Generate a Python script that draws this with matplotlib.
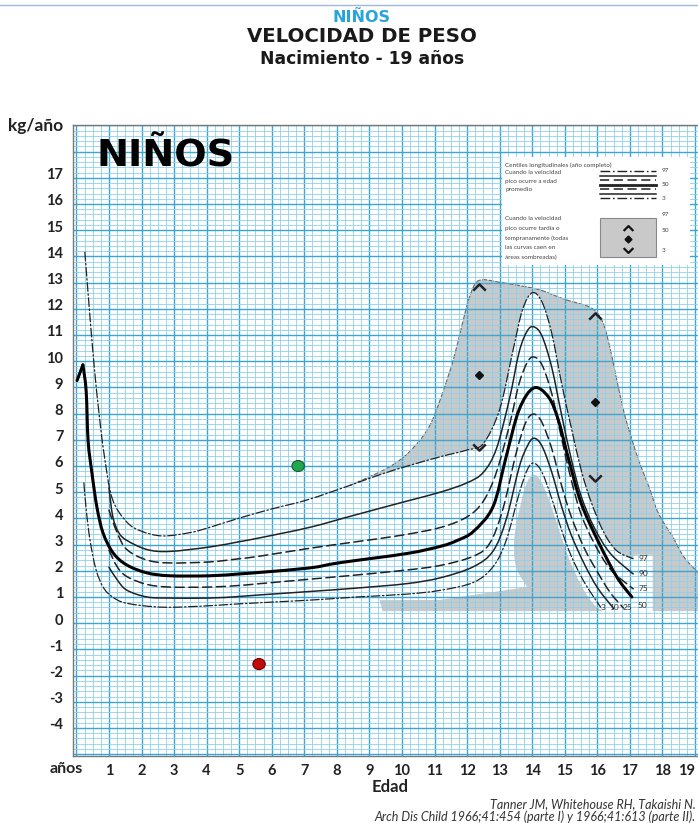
import matplotlib
matplotlib.use("Agg")
import matplotlib.pyplot as plt
import numpy as np
from matplotlib.patches import PathPatch, Rectangle, Ellipse
from matplotlib.path import Path

plt.rcParams["font.family"] = ["Lato", "DejaVu Sans"]

# ---------------- data ----------------
# age (years) / weight velocity (kg/year) per centile, average-timing peak
c97_x = [0.26, 0.4, 0.55, 0.7, 0.85, 1.1, 1.55, 2.0, 2.65, 3.5, 4.1, 5.0, 6.0, 7.1, 8.4, 9.3, 10.2, 11.2, 12.0, 12.5,
         13.0, 13.4, 13.7, 14.0, 14.3, 14.6, 14.9, 15.2, 15.5, 15.8, 16.2, 16.6, 17.1]
c97_y = [14.0, 11.8, 9.6, 7.8, 6.3, 4.6, 3.7, 3.35, 3.17, 3.3, 3.5, 3.85, 4.2, 4.55, 5.1, 5.5, 5.85, 6.2, 6.45, 6.7,
         8.0, 10.2, 11.8, 12.45, 12.1, 10.9, 9.0, 7.3, 5.7, 4.5, 3.3, 2.6, 2.3]

c90_x = [1.0, 1.12, 1.3, 1.55, 2.17, 2.87, 4.1, 5.0, 5.64, 7.17, 8.5, 10.15, 11.2, 12.0, 12.5, 12.9, 13.3, 13.6,
         13.85, 14.05, 14.3, 14.6, 14.9, 15.2, 15.5, 15.9, 16.4, 17.1]
c90_y = [5.0, 3.9, 3.3, 3.0, 2.65, 2.58, 2.75, 2.95, 3.1, 3.5, 3.95, 4.5, 4.85, 5.2, 5.6, 6.5, 8.4, 10.2,
         11.0, 11.15, 10.8, 9.6, 7.8, 6.1, 4.7, 3.5, 2.5, 1.72]

c75_x = [1.0, 1.25, 1.55, 2.17, 2.87, 4.1, 5.0, 5.64, 7.17, 8.6, 10.0, 11.2, 12.0, 12.5, 12.9, 13.3, 13.6, 13.85,
         14.05, 14.3, 14.6, 14.9, 15.2, 15.5, 15.9, 16.4, 17.1]
c75_y = [4.15, 3.3, 2.65, 2.25, 2.14, 2.18, 2.3, 2.4, 2.7, 2.95, 3.2, 3.5, 3.9, 4.5, 5.6, 7.4, 9.0, 9.8,
         10.0, 9.7, 8.6, 6.9, 5.3, 4.0, 2.9, 1.9, 1.15]

c50_x = [0.02, 0.2, 0.3, 0.36, 0.48, 0.63, 0.82, 1.13, 1.55, 2.17, 2.87, 4.1, 5.0, 5.64, 7.17, 8.1, 10.15, 11.2,
         11.7, 12.2, 12.8, 13.2, 13.6, 14.05, 14.5, 14.8, 15.1, 15.5, 16.05, 16.6, 17.06]
c50_y = [9.1, 9.7, 8.7, 6.8, 5.55, 4.27, 3.28, 2.52, 2.06, 1.76, 1.65, 1.65, 1.72, 1.78, 1.95, 2.15, 2.5, 2.78,
         3.0, 3.35, 4.3, 6.2, 8.0, 8.82, 8.47, 7.6, 6.18, 4.43, 2.9, 1.6, 0.84]

c25_x = [1.0, 1.25, 1.55, 2.17, 2.87, 4.1, 5.0, 5.64, 7.17, 8.6, 10.15, 11.2, 12.2, 12.7, 13.1, 13.5, 13.8, 14.05,
         14.3, 14.6, 14.9, 15.2, 15.6, 16.0, 16.4, 16.8]
c25_y = [2.63, 2.0, 1.62, 1.32, 1.22, 1.22, 1.28, 1.35, 1.52, 1.68, 1.87, 2.05, 2.4, 2.9, 4.2, 6.3, 7.5, 7.82,
         7.5, 6.5, 5.1, 3.9, 2.7, 1.8, 1.0, 0.42]

c10_x = [1.0, 1.25, 1.55, 2.17, 2.87, 4.1, 5.0, 5.64, 7.17, 8.6, 10.15, 11.2, 12.2, 12.8, 13.2, 13.6, 13.85, 14.05,
         14.3, 14.6, 14.9, 15.2, 15.6, 16.0, 16.5]
c10_y = [1.98, 1.5, 1.1, 0.84, 0.8, 0.8, 0.86, 0.92, 1.05, 1.18, 1.35, 1.58, 2.0, 2.6, 3.8, 5.8, 6.6, 6.9,
         6.6, 5.6, 4.3, 3.2, 2.1, 1.2, 0.4]

c3_x = [0.23, 0.3, 0.42, 0.6, 0.82, 1.1, 1.55, 2.65, 4.0, 5.0, 7.17, 8.6, 10.15, 11.2, 12.2, 12.8, 13.2, 13.6,
        13.85, 14.05, 14.3, 14.6, 14.9, 15.2, 15.6, 16.1]
c3_y = [5.2, 4.2, 3.0, 1.9, 1.22, 0.85, 0.6, 0.45, 0.5, 0.58, 0.72, 0.84, 0.95, 1.1, 1.4, 2.0, 3.0, 4.8,
        5.7, 5.95, 5.6, 4.6, 3.4, 2.4, 1.4, 0.45]

# envelope of early / late peak velocity (shaded area)
shade_top_x = [8.4, 9.3, 9.8, 10.2, 10.6, 10.9, 11.17, 11.4, 11.6, 11.88, 12.05, 12.25, 12.5, 13.0, 13.5, 14.24,
               15.0, 15.77, 16.1, 16.3, 16.5, 16.8, 17.05, 17.3, 17.6, 17.83, 18.1, 18.32, 18.7, 19.4]
shade_top_y = [5.1, 5.6, 5.95, 6.35, 6.9, 7.5, 8.36, 9.2, 10.0, 11.4, 12.2, 12.8, 12.95, 12.85, 12.75, 12.56,
               12.2, 11.9, 11.5, 10.8, 9.7, 7.98, 6.9, 5.95, 5.0, 4.16, 3.55, 3.13, 2.3, 1.4]
shade_floor = 0.3
band_low_x = [8.4, 9.4, 11.17, 13.84]
band_low_y = [0.72, 0.72, 0.73, 1.22]
hump_edge_x = [16.3, 15.9, 15.5, 15.1, 14.8, 14.5, 14.25, 14.05, 13.85, 13.65, 13.45, 13.5, 13.84]
hump_edge_y = [0.22, 0.55, 1.3, 2.4, 3.5, 4.6, 5.3, 5.5, 5.25, 4.4, 3.1, 2.0, 1.22]

centile_labels = ["97", "90", "75", "50"]
centile_label_y = [2.3, 1.72, 1.15, 0.53]
low_labels = ["3", "10", "25"]
low_label_x = [16.1, 16.38, 16.78]

marker_x = [12.36, 15.93]
up_y = [12.67, 11.56]
mid_y = [9.3, 8.28]
down_y = [6.56, 5.38]

green_pt = (6.81, 5.84)
red_pt = (5.61, -1.72)

years = list(range(1, 20))
kg_ticks = list(range(-4, 18))


# ---------------- helpers ----------------
def bezier_segments(xs, ys):
    """Cubic Bezier segments passing through the given points (Catmull-Rom tangents)."""
    P = np.column_stack([xs, ys]).astype(float)
    n = len(P)
    verts, codes = [], []
    for i in range(n - 1):
        p0 = P[i - 1] if i > 0 else P[i]
        p1, p2 = P[i], P[i + 1]
        p3 = P[i + 2] if i + 2 < n else P[i + 1]
        verts += [p1 + (p2 - p0) / 6.0, p2 - (p3 - p1) / 6.0, p2]
        codes += [Path.CURVE4] * 3
    return verts, codes


def smooth_path(xs, ys):
    v, c = bezier_segments(xs, ys)
    return Path([(xs[0], ys[0])] + v, [Path.MOVETO] + c)


def draw_curve(ax, xs, ys, **kw):
    ax.add_patch(PathPatch(smooth_path(xs, ys), fill=False, capstyle="round", **kw))


# ---------------- figure ----------------
W, H = 698, 823
fig = plt.figure(figsize=(W / 100, H / 100), dpi=100)
fig.patch.set_facecolor("white")

ax = fig.add_axes([73 / W, 1 - 756 / H, (705 - 73) / W, (756 - 125) / H])
ax.set_xlim(-0.104, 19.306)
ax.set_ylim(-5.229, 18.855)
ax.set_facecolor("white")

gray = "#c9c9c9"
# shaded envelope
v, c = bezier_segments(shade_top_x, shade_top_y)
verts = [(shade_top_x[0], shade_top_y[0])] + v + [(19.4, shade_floor), (9.4, shade_floor), (0, 0)]
codes = [Path.MOVETO] + c + [Path.LINETO, Path.LINETO, Path.CLOSEPOLY]
ax.add_patch(PathPatch(Path(verts, codes), facecolor=gray, edgecolor="none", zorder=0.5))
draw_curve(ax, shade_top_x, shade_top_y, edgecolor="#666666", lw=0.8, ls=(0, (4, 2)), zorder=0.7)

# white band holding the average-timing curves
sel = [i for i, x in enumerate(c97_x) if x >= 8.4]
ux = [c97_x[i] for i in sel]
uy = [c97_y[i] for i in sel]
v, c = bezier_segments(ux, uy)
verts = [(ux[0], uy[0])] + v
codes = [Path.MOVETO] + c
for p in [(17.12, 2.45), (17.7, 2.45), (17.7, 0.22)]:
    verts.append(p); codes.append(Path.LINETO)
verts.append((hump_edge_x[0], hump_edge_y[0])); codes.append(Path.LINETO)
v, c = bezier_segments(hump_edge_x, hump_edge_y)
verts += v; codes += c
for p in list(zip(band_low_x, band_low_y))[::-1][1:]:
    verts.append(p); codes.append(Path.LINETO)
verts.append((0, 0)); codes.append(Path.CLOSEPOLY)
ax.add_patch(PathPatch(Path(verts, codes), facecolor="white", edgecolor="none", zorder=0.6))

# graph-paper grid
for vv in np.arange(0, 19.6, 0.25):
    major = abs(vv - round(vv)) < 1e-6
    ax.axvline(vv, color="#3aa6d4" if major else "#8fd0ec", lw=1.0 if major else 0.6, zorder=1)
for k in range(-6, 19):
    base = k + 0.84
    ax.axhline(base, color="#3aa6d4", lw=1.0, zorder=1)
    for j in range(1, 5):
        ax.axhline(base + 0.2 * j, color="#8fd0ec", lw=0.6, zorder=1)

# centile curves
ink = "#222222"
dashdot = (0, (7, 2, 1.2, 2))
dash = (0, (6, 3))
draw_curve(ax, c97_x, c97_y, edgecolor=ink, lw=0.9, ls=dashdot, zorder=3)
draw_curve(ax, c90_x, c90_y, edgecolor=ink, lw=1.1, ls="-", zorder=3)
draw_curve(ax, c75_x, c75_y, edgecolor=ink, lw=1.1, ls=dash, zorder=3)
ax.plot(c50_x[:2], c50_y[:2], color="black", lw=2.2, solid_capstyle="round", zorder=3.2)
draw_curve(ax, c50_x[1:], c50_y[1:], edgecolor="black", lw=2.2, ls="-", zorder=3.2)
draw_curve(ax, c25_x, c25_y, edgecolor=ink, lw=1.1, ls=dash, zorder=3)
draw_curve(ax, c10_x, c10_y, edgecolor=ink, lw=1.1, ls="-", zorder=3)
draw_curve(ax, c3_x, c3_y, edgecolor=ink, lw=0.9, ls=dashdot, zorder=3)

for lab, yy in zip(centile_labels, centile_label_y):
    ax.text(17.25, yy, lab, fontsize=6, color="#333333", va="center", ha="left", zorder=4)
for lab, xx in zip(low_labels, low_label_x):
    ax.text(xx, 0.42, lab, fontsize=6, color="#333333", va="center", ha="left", zorder=4)

# timing markers in the shaded area
chev_up = Path([(-1, -0.5), (0, 0.5), (1, -0.5)], [Path.MOVETO, Path.LINETO, Path.LINETO])
chev_dn = Path([(-1, 0.5), (0, -0.5), (1, 0.5)], [Path.MOVETO, Path.LINETO, Path.LINETO])
ax.plot(marker_x, up_y, ls="none", marker=chev_up, ms=9, mfc="none", mec="#222222", mew=1.8, zorder=4)
ax.plot(marker_x, down_y, ls="none", marker=chev_dn, ms=9, mfc="none", mec="#222222", mew=1.8, zorder=4)
ax.plot(marker_x, mid_y, ls="none", marker="D", ms=4, color="#111111", zorder=4)

# patient points
ax.add_patch(Ellipse(green_pt, 0.38, 0.42, facecolor="#1fa84f", edgecolor="#1a5a2a", lw=0.8, zorder=5))
ax.add_patch(Ellipse(red_pt, 0.38, 0.42, facecolor="#c40a0a", edgecolor="#6a0000", lw=0.8, zorder=5))

# axes decoration
for s in ["left", "top", "bottom"]:
    ax.spines[s].set_color("#777777")
    ax.spines[s].set_linewidth(1.0)
ax.spines["right"].set_visible(False)
ax.set_xticks(years)
ax.set_xticklabels([str(y) for y in years])
ax.set_yticks(kg_ticks)
ax.set_yticklabels([str(k) for k in kg_ticks])
ax.tick_params(axis="both", length=0, labelsize=10.5, colors="#222222")
ax.tick_params(axis="y", pad=7)
ax.tick_params(axis="x", pad=6)
for t in ax.get_xticklabels() + ax.get_yticklabels():
    t.set_fontweight("bold")
ax.get_xticklabels()[-1].set_horizontalalignment("right")

ax.text(0.63, 17.67, "NIÑOS", fontsize=27.5, fontweight="bold", family="DejaVu Sans", color="black",
        va="center", ha="left", zorder=5)


# titles and annotations, placed in figure pixels
def fpx(x, y):
    return x / W, 1 - y / H


fig.add_artist(plt.Line2D([0, 1], [1 - 5 / H, 1 - 5 / H], color="#9fb9da", lw=1.0))
fig.text(*fpx(362, 17), "NIÑOS", fontsize=11.5, fontweight="bold", family="DejaVu Sans", color="#29a3dc",
         ha="center", va="center")
fig.text(*fpx(362, 37), "VELOCIDAD DE PESO", fontsize=14.2, fontweight="bold", family="DejaVu Sans",
         color="#1a1a1a", ha="center", va="center")
fig.text(*fpx(362, 59), "Nacimiento - 19 años", fontsize=12.3, fontweight="bold", family="DejaVu Sans",
         color="#1a1a1a", ha="center", va="center")
fig.text(*fpx(8, 126), "kg/año", fontsize=12.5, fontweight="bold", color="#222222", ha="left", va="center")
fig.text(*fpx(50, 769), "años", fontsize=11.5, fontweight="bold", color="#222222", ha="left", va="center")
fig.text(*fpx(390, 787), "Edad", fontsize=12, fontweight="bold", color="#222222", ha="center", va="center")
fig.text(*fpx(696, 804), "Tanner JM, Whitehouse RH, Takaishi N.", fontsize=9, style="italic",
         color="#333333", ha="right", va="center")
fig.text(*fpx(696, 817), "Arch Dis Child 1966;41:454 (parte I) y 1966;41:613 (parte II).", fontsize=9,
         style="italic", color="#333333", ha="right", va="center")

# key box
bx0, by0, bw, bh = 502, 157, 188, 108
kax = fig.add_axes([bx0 / W, 1 - (by0 + bh) / H, bw / W, bh / H])
kax.set_xlim(0, bw)
kax.set_ylim(bh, 0)
kax.set_facecolor("white")
for s in kax.spines.values():
    s.set_visible(False)
kax.set_xticks([])
kax.set_yticks([])
key_lines_1 = ["Centiles longitudinales (año completo)", "Cuando la velocidad", "pico ocurre a edad", "promedio"]
for i, t in enumerate(key_lines_1):
    kax.text(3, 8 + i * 8, t, fontsize=4.6, color="#444444", va="center", ha="left")
key_lines_2 = ["Cuando la velocidad", "pico ocurre tardía o", "tempranamente (todas", "las curvas caen en",
               "áreas sombreadas)"]
for i, t in enumerate(key_lines_2):
    kax.text(3, 62 + i * 9.5, t, fontsize=4.6, color="#444444", va="center", ha="left")
key_styles = [(dashdot, 1.0), ("-", 1.1), (dash, 1.1), ("-", 2.0), (dash, 1.1), ("-", 1.1), (dashdot, 1.0)]
for i, (ls, lw) in enumerate(key_styles):
    yy = 14 + i * 4.5
    kax.plot([98, 154], [yy, yy], color="#222222", ls=ls, lw=lw)
for t, yy in zip(["97", "50", "3"], [14, 27.5, 41]):
    kax.text(160, yy, t, fontsize=4.6, color="#444444", va="center")
kax.add_patch(Rectangle((98, 61), 56, 39, facecolor=gray, edgecolor="#888888", lw=0.8))
kax.plot([126], [71], ls="none", marker=chev_up, ms=7, mfc="none", mec="#111111", mew=1.6)
kax.plot([126], [82], ls="none", marker="D", ms=3.5, color="#111111")
kax.plot([126], [93], ls="none", marker=chev_dn, ms=7, mfc="none", mec="#111111", mew=1.6)
for t, yy in zip(["97", "50", "3"], [57, 74, 93]):
    kax.text(160, yy, t, fontsize=4.6, color="#444444", va="center")

fig.savefig("out.png", dpi=100, facecolor="white")
